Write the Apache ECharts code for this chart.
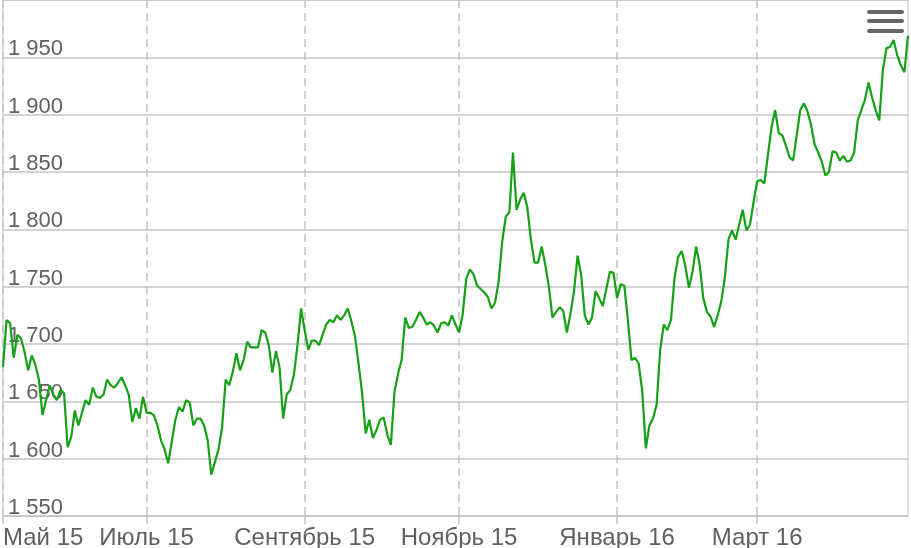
<!DOCTYPE html>
<html>
<head>
<meta charset="utf-8">
<script src="https://cdn.jsdelivr.net/npm/echarts@6/dist/echarts.min.js"></script>
<style>
  html, body { margin: 0; padding: 0; background: #fff; }
  #chart { width: 911px; height: 548px; }
</style>
</head>
<body>
<div id="chart"></div>
<script>
// закрытия по торговым дням, по два месяца в массиве
const mayJun15 = [
  1680, 1721, 1718, 1688, 1708, 1705, 1693, 1677, 1690, 1682,
  1669, 1638, 1651, 1664, 1656, 1651, 1660, 1657, 1610, 1619,
  1642, 1629, 1640, 1651, 1647, 1662, 1654, 1653, 1656, 1669,
  1664, 1662, 1666, 1671, 1664, 1656, 1632, 1644, 1635, 1654
];
const julAug15 = [
  1640, 1640, 1638, 1629, 1616, 1608, 1596, 1615, 1634, 1645,
  1641, 1651, 1649, 1629, 1635, 1635, 1629, 1616, 1586, 1597,
  1608, 1627, 1669, 1664, 1676, 1692, 1677, 1686, 1702, 1697,
  1697, 1697, 1712, 1710, 1699, 1675, 1694, 1680, 1635, 1656,
  1660, 1673, 1699, 1731
];
const sepOct15 = [
  1712, 1695, 1703, 1703, 1699, 1708, 1717, 1721, 1719, 1725,
  1721, 1725, 1731, 1720, 1707, 1683, 1657, 1622, 1634, 1618,
  1625, 1634, 1636, 1621, 1612, 1658, 1674, 1686, 1723, 1714,
  1715, 1721, 1728, 1723, 1717, 1719, 1716, 1710, 1718, 1719,
  1716, 1725, 1717
];
const novDec15 = [
  1710,
  1726, 1757, 1765, 1761, 1751, 1748, 1745, 1741, 1731, 1736,
  1754, 1789, 1811, 1815, 1867, 1817, 1826, 1832, 1819, 1791,
  1771, 1771, 1785, 1769, 1750, 1723, 1728, 1732, 1729, 1710,
  1726, 1746, 1777, 1760, 1725, 1717, 1723, 1746, 1740, 1733,
  1748, 1763, 1762
];
const janFeb16 = [
  1740, 1752, 1751, 1721,
  1686, 1688, 1683, 1659, 1609, 1629, 1635, 1647, 1695, 1717,
  1712, 1721, 1758, 1776, 1781, 1768, 1749, 1763, 1785, 1769,
  1740, 1728, 1724, 1715, 1725, 1737, 1758, 1791, 1799, 1791,
  1804, 1817, 1799, 1804, 1824
];
const marApr16 = [
  1842, 1843, 1840, 1865, 1889,
  1904, 1884, 1882, 1873, 1863, 1860, 1882, 1904, 1910, 1903,
  1891, 1874, 1867, 1859, 1847, 1850, 1868, 1867, 1860, 1864,
  1859, 1860, 1867, 1895, 1904, 1913, 1928, 1915, 1904, 1895,
  1939, 1958, 1959, 1965, 1952, 1943, 1937, 1969
];

const periods = [mayJun15, julAug15, sepOct15, novDec15, janFeb16, marApr16];
const periodLabels = ['Май 15', 'Июль 15', 'Сентябрь 15', 'Ноябрь 15', 'Январь 16', 'Март 16'];

const closes = [].concat(...periods);
const days = closes.map((_, i) => String(i));

// первый торговый день каждого периода -> подпись
const tickAt = {};
let pos = 0;
periods.forEach((p, k) => { tickAt[pos] = periodLabels[k]; pos += p.length; });
const isTick = (i) => Object.prototype.hasOwnProperty.call(tickAt, i);

const font = 'Liberation Sans, Arial, sans-serif';
const gridColor = '#c4c4c4';

const myChart = echarts.init(document.getElementById('chart'));

const option = {
  animation: false,
  grid: {
    left: 3, right: 3, top: 0, bottom: 32,
    outerBoundsMode: 'none',
    show: true,
    borderColor: gridColor,
    borderWidth: 1
  },
  xAxis: {
    type: 'category',
    data: days,
    boundaryGap: false,
    axisLine: { show: true, lineStyle: { color: gridColor } },
    axisTick: {
      show: true,
      interval: isTick,
      length: 10,
      lineStyle: { color: gridColor, width: 1.5, type: [8, 5] }
    },
    axisLabel: {
      interval: isTick,
      formatter: (v, i) => tickAt[i] || '',
      alignMinLabel: 'left',
      fontSize: 24,
      fontFamily: font,
      color: '#606060',
      margin: 10
    },
    splitLine: {
      show: true,
      interval: isTick,
      lineStyle: { color: gridColor, width: 1.5, type: [8, 5] }
    }
  },
  yAxis: {
    type: 'value',
    min: 1550,
    max: 2000,
    interval: 50,
    axisLine: { show: false },
    axisTick: { show: false },
    axisLabel: {
      inside: true,
      showMaxLabel: false,
      align: 'left',
      verticalAlign: 'bottom',
      lineHeight: 16,
      margin: 5,
      fontSize: 22,
      fontFamily: font,
      color: '#606060',
      formatter: (v) => String(v).replace(/\B(?=(\d{3})+(?!\d))/g, ' ')
    },
    splitLine: { show: true, lineStyle: { color: gridColor, width: 1.5 } }
  },
  graphic: [
    { type: 'rect', left: 867, top: 10, shape: { width: 37, height: 4, r: 2 }, style: { fill: '#666' } },
    { type: 'rect', left: 867, top: 19, shape: { width: 37, height: 4, r: 2 }, style: { fill: '#666' } },
    { type: 'rect', left: 867, top: 29, shape: { width: 37, height: 4, r: 2 }, style: { fill: '#666' } }
  ],
  series: [
    {
      type: 'line',
      data: closes,
      showSymbol: false,
      lineStyle: { color: '#16a016', width: 2.2 },
      z: 3
    }
  ]
};

myChart.setOption(option);
</script>
</body>
</html>
